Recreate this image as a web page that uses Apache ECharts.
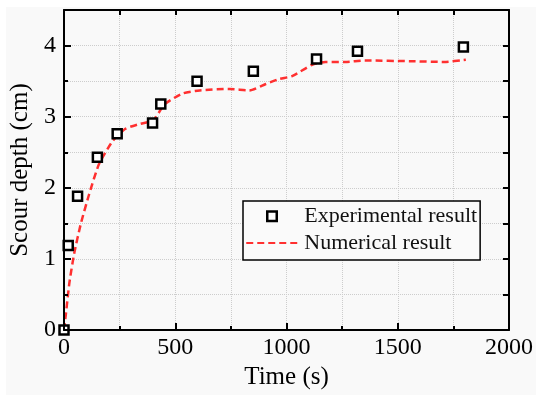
<!DOCTYPE html>
<html>
<head>
<meta charset="utf-8">
<script src="https://cdn.jsdelivr.net/npm/echarts@6/dist/echarts.min.js"></script>
<style>
  body { margin: 0; background: #fff; }
  #bg { position: absolute; left: 6px; top: 7px; width: 530px; height: 388px; background: #f9f9f9; }
  #main { position: absolute; left: 0; top: 0; width: 536px; height: 395px; }
</style>
</head>
<body>
<div id="bg"></div>
<div id="main"></div>
<script>
// experimental measurements
const expTime = [0, 19, 61, 150, 239, 398, 435, 598, 851, 1135, 1319, 1795];
const expDepth = [0, 1.19, 1.88, 2.43, 2.76, 2.91, 3.18, 3.50, 3.64, 3.81, 3.92, 3.98];

// numerical curve
const numTime = [0, 9, 24, 46, 76, 113, 157, 217, 276, 343, 402, 447, 477, 536, 610, 744, 833, 907, 967, 1025, 1115, 1175, 1263, 1352, 1560, 1709, 1806];
const numDepth = [0, 0.24, 0.66, 1.08, 1.50, 1.91, 2.33, 2.65, 2.83, 2.90, 2.95, 3.16, 3.23, 3.33, 3.37, 3.39, 3.37, 3.46, 3.53, 3.57, 3.73, 3.77, 3.77, 3.79, 3.78, 3.77, 3.80];

const font = 'Liberation Serif';
const black = '#000';
const red = '#ff3030';
const gridLine = { show: true, lineStyle: { color: '#cdcdcd', type: 'dotted', width: 1 } };

// small square centred in a wide legend slot (the moveTo points set the box)
const squareIcon = 'path://M0,0 M52,10 M21,0.5 L30.5,0.5 L30.5,10 L21,10 Z';

const myChart = echarts.init(document.getElementById('main'));

const option = {
  animation: false,
  textStyle: { fontFamily: font, color: black },
  grid: { left: 64, top: 10, right: 24, bottom: 61 },
  legend: {
    orient: 'vertical',
    left: 243,
    top: 201,
    padding: [4, 3, 6, 2],
    itemGap: 5,
    itemWidth: 52,
    itemHeight: 10,
    backgroundColor: '#fafafa',
    borderColor: black,
    borderWidth: 1.5,
    textStyle: { fontFamily: font, fontSize: 22, color: '#111', padding: [0, 0, 0, 1] },
    data: [
      {
        name: 'Experimental result',
        icon: squareIcon,
        itemStyle: { color: '#fff', borderColor: black, borderWidth: 2.5 }
      },
      {
        name: 'Numerical result',
        itemStyle: { color: 'transparent', borderWidth: 0, opacity: 0 }
      }
    ]
  },
  xAxis: [
    {
      type: 'value', position: 'bottom', min: 0, max: 2000, interval: 500, z: 5,
      name: 'Time (s)', nameLocation: 'middle', nameGap: 31,
      nameTextStyle: { fontFamily: font, fontSize: 25, color: black },
      axisLine: { show: true, onZero: false, lineStyle: { color: black, width: 2 } },
      axisTick: { show: true, inside: true, length: 7, lineStyle: { color: black, width: 2 } },
      minorTick: { show: true, splitNumber: 2, length: 4, lineStyle: { color: black, width: 2 } },
      axisLabel: { fontFamily: font, fontSize: 24, color: black, margin: 6, formatter: v => String(v) },
      splitLine: { show: false }
    },
    {
      type: 'value', position: 'top', min: 0, max: 2000, interval: 250, z: 0,
      axisLine: { show: true, onZero: false, lineStyle: { color: black, width: 2 } },
      axisTick: { show: true, inside: true, length: 5, lineStyle: { color: black, width: 2 } },
      axisLabel: { show: false },
      splitLine: gridLine
    }
  ],
  yAxis: [
    {
      type: 'value', position: 'left', min: 0, max: 4.5, interval: 1, z: 5,
      name: 'Scour depth (cm)', nameLocation: 'middle', nameGap: 29,
      nameTextStyle: { fontFamily: font, fontSize: 25, color: black },
      axisLine: { show: true, onZero: false, lineStyle: { color: black, width: 2 } },
      axisTick: { show: true, inside: true, length: 7, lineStyle: { color: black, width: 2 } },
      axisLabel: {
        fontFamily: font, fontSize: 24, color: black, margin: 8,
        formatter: v => (v % 1 === 0 ? String(v) : '')
      },
      splitLine: { show: false }
    },
    {
      type: 'value', position: 'left', min: 0, max: 4.5, interval: 0.5, z: 5,
      axisLine: { show: false },
      axisTick: { show: true, inside: true, length: 4, lineStyle: { color: black, width: 2 } },
      axisLabel: { show: false },
      splitLine: { show: false }
    },
    {
      type: 'value', position: 'right', min: 0, max: 4.5, interval: 0.5, z: 0,
      axisLine: { show: true, onZero: false, lineStyle: { color: black, width: 2 } },
      axisTick: { show: true, inside: true, length: 6, lineStyle: { color: black, width: 2 } },
      axisLabel: { show: false },
      splitLine: gridLine
    }
  ],
  series: [
    {
      name: 'Numerical result',
      type: 'line',
      xAxisIndex: 0, yAxisIndex: 0,
      showSymbol: false,
      symbol: 'none',
      smooth: 0.2,
      z: 2,
      lineStyle: { color: red, width: 2.5, type: [7, 4] },
      itemStyle: { color: red },
      data: numTime.map((t, i) => [t, numDepth[i]])
    },
    {
      name: 'Experimental result',
      type: 'scatter',
      xAxisIndex: 0, yAxisIndex: 0,
      symbol: 'rect',
      symbolSize: 9,
      z: 3,
      itemStyle: { color: '#fff', borderColor: black, borderWidth: 2.5, opacity: 1 },
      data: expTime.map((t, i) => [t, expDepth[i]])
    }
  ]
};

option && myChart.setOption(option, true);
</script>
</body>
</html>
